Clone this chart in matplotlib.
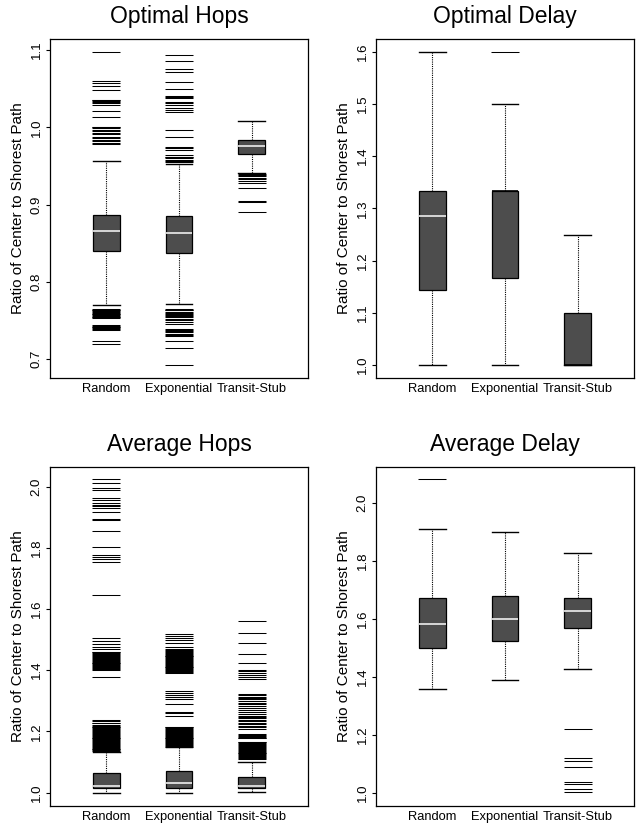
import matplotlib
matplotlib.use("Agg")
import matplotlib.pyplot as plt
from matplotlib.ticker import FormatStrFormatter

plt.rcParams['font.family'] = ['Liberation Sans', 'DejaVu Sans']

groups = ["Random", "Exponential", "Transit-Stub"]

# five-number stats per group: whisker low, q1, median, q3, whisker high
opt_hops_stats = [[0.770, 0.840, 0.866, 0.887, 0.957],
                  [0.771, 0.838, 0.863, 0.885, 0.952],
                  [0.941, 0.966, 0.976, 0.984, 1.008]]
opt_hops_fliers = [
    [1.098, 1.060, 1.057, 1.053, 1.048, 1.036, 1.035, 1.034, 1.033, 1.032,
     1.029, 1.021, 1.013, 1.001, 1.000, 0.999, 0.997, 0.995, 0.993, 0.991,
     0.988, 0.986, 0.984, 0.982, 0.980, 0.979,
     0.765, 0.764, 0.763, 0.762, 0.761, 0.760, 0.759, 0.758, 0.757, 0.756,
     0.755, 0.754, 0.753, 0.744, 0.743, 0.742, 0.741, 0.740, 0.739, 0.738,
     0.724, 0.720],
    [1.094, 1.086, 1.075, 1.072, 1.059, 1.049, 1.040, 1.039, 1.038, 1.033,
     1.031, 1.029, 1.025, 1.022, 1.020, 0.996, 0.987, 0.975, 0.973, 0.971,
     0.964, 0.962, 0.961, 0.960, 0.958, 0.956, 0.955,
     0.765, 0.764, 0.763, 0.761, 0.760, 0.758, 0.757, 0.756, 0.754, 0.752,
     0.750, 0.748, 0.746, 0.739, 0.738, 0.737, 0.735, 0.733, 0.731, 0.730,
     0.724, 0.714, 0.692],
    [0.940, 0.938, 0.937, 0.935, 0.933, 0.930, 0.928, 0.922, 0.905, 0.903,
     0.890],
]

opt_delay_stats = [[1.000, 1.143, 1.285, 1.333, 1.600],
                   [1.000, 1.167, 1.333, 1.333, 1.500],
                   [1.000, 1.000, 1.000, 1.100, 1.250]]
opt_delay_fliers = [[], [1.600], []]

avg_hops_stats = [[1.000, 1.014, 1.023, 1.063, 1.134],
                  [1.000, 1.016, 1.031, 1.071, 1.148],
                  [1.003, 1.016, 1.022, 1.052, 1.101]]
avg_hops_fliers = [
    [2.024, 2.013, 1.995, 1.989, 1.962, 1.957, 1.946, 1.940, 1.935, 1.931,
     1.918, 1.893, 1.891, 1.856, 1.802, 1.777, 1.770, 1.763, 1.752, 1.646,
     1.504, 1.497, 1.486, 1.477, 1.469, 1.461, 1.458, 1.455, 1.452, 1.449,
     1.446, 1.443, 1.440, 1.437, 1.434, 1.431, 1.428, 1.425, 1.422, 1.419,
     1.416, 1.413, 1.410, 1.407, 1.404, 1.401, 1.379,
     1.237, 1.233, 1.229, 1.226, 1.222, 1.219, 1.216, 1.213, 1.210, 1.207,
     1.204, 1.201, 1.198, 1.195, 1.192, 1.189, 1.186, 1.183, 1.180, 1.177,
     1.174, 1.171, 1.168, 1.165, 1.162, 1.159, 1.156, 1.153, 1.150, 1.147,
     1.144, 1.141, 1.138, 1.135],
    [1.519, 1.512, 1.504, 1.499, 1.488, 1.477, 1.469, 1.466, 1.463, 1.460,
     1.457, 1.454, 1.451, 1.448, 1.445, 1.442, 1.439, 1.436, 1.433, 1.430,
     1.427, 1.424, 1.421, 1.418, 1.415, 1.412, 1.409, 1.406, 1.403, 1.400,
     1.397, 1.394, 1.391,
     1.332, 1.327, 1.319, 1.314, 1.306, 1.289, 1.265, 1.259, 1.251,
     1.216, 1.213, 1.210, 1.207, 1.204, 1.201, 1.198, 1.195, 1.192, 1.189,
     1.186, 1.183, 1.180, 1.177, 1.174, 1.171, 1.168, 1.165, 1.162, 1.159,
     1.156, 1.153, 1.150],
    [1.562, 1.523, 1.490, 1.452, 1.425, 1.401, 1.396, 1.390, 1.385, 1.379,
     1.371, 1.322, 1.318, 1.311, 1.308, 1.305, 1.300, 1.293, 1.288, 1.282,
     1.276, 1.270, 1.265, 1.258, 1.252, 1.247, 1.243, 1.238, 1.233, 1.228,
     1.224, 1.219, 1.214, 1.208, 1.192, 1.189, 1.186, 1.183, 1.180, 1.177,
     1.167, 1.164, 1.161, 1.158, 1.155, 1.152, 1.149, 1.146, 1.143, 1.140,
     1.137, 1.134, 1.131, 1.128, 1.125, 1.122, 1.119, 1.116, 1.113, 1.110],
]

avg_delay_stats = [[1.359, 1.499, 1.583, 1.671, 1.908],
                   [1.390, 1.524, 1.600, 1.679, 1.900],
                   [1.428, 1.568, 1.627, 1.673, 1.826]]
avg_delay_fliers = [[2.080], [],
                    [1.220, 1.120, 1.110, 1.091, 1.040, 1.030, 1.016, 1.003]]

panels = [
    ("Optimal Hops", opt_hops_stats, opt_hops_fliers, (0.676, 1.114), [0.7, 0.8, 0.9, 1.0, 1.1]),
    ("Optimal Delay", opt_delay_stats, opt_delay_fliers, (0.976, 1.624), [1.0, 1.1, 1.2, 1.3, 1.4, 1.5, 1.6]),
    ("Average Hops", avg_hops_stats, avg_hops_fliers, (0.9565, 2.065), [1.0, 1.2, 1.4, 1.6, 1.8, 2.0]),
    ("Average Delay", avg_delay_stats, avg_delay_fliers, (0.956, 2.124), [1.0, 1.2, 1.4, 1.6, 1.8, 2.0]),
]

fig = plt.figure(figsize=(6.37, 8.23), dpi=100)
rects = [[0.0785, 0.5411, 0.405, 0.4112],
         [0.5903, 0.5411, 0.405, 0.4112],
         [0.0785, 0.0207, 0.405, 0.4123],
         [0.5903, 0.0207, 0.405, 0.4123]]

for rect, (title, stats, fliers, ylim, yticks) in zip(rects, panels):
    ax = fig.add_axes(rect)
    bstats = []
    for name, s, f in zip(groups, stats, fliers):
        bstats.append(dict(label=name, whislo=s[0], q1=s[1], med=s[2],
                           q3=s[3], whishi=s[4], fliers=f))
    res = ax.bxp(bstats, positions=[1, 2, 3], widths=0.37, capwidths=0.37,
                 patch_artist=True, showfliers=True,
                 boxprops=dict(facecolor='#4D4D4D', edgecolor='black', linewidth=0.9),
                 whiskerprops=dict(color='black', linestyle=(0, (1, 1)), linewidth=0.8),
                 capprops=dict(color='black', linewidth=1.0),
                 medianprops=dict(color='#EEEEEE', linewidth=1.2),
                 flierprops=dict(marker='_', markersize=19.5, markeredgecolor='black',
                                 markeredgewidth=0.75, linestyle='none'))
    # median hidden under box edge when it equals a quartile
    for line, s in zip(res['medians'], bstats):
        if s['med'] in (s['q1'], s['q3']):
            line.set_color('black')

    ax.set_xlim(0.23, 3.77)
    ax.set_ylim(*ylim)
    ax.set_yticks(yticks)
    ax.yaxis.set_major_formatter(FormatStrFormatter('%.1f'))
    ax.set_xticks([1, 2, 3])
    ax.set_xticklabels(groups, fontsize=9.3)
    ax.tick_params(axis='x', length=0, pad=3.5)
    ax.tick_params(axis='y', length=3, width=0.8, pad=2.3, labelsize=9.5)
    for lab in ax.get_yticklabels():
        lab.set_rotation(90)
        lab.set_va('center')
    for sp in ax.spines.values():
        sp.set_linewidth(0.9)
    ax.set_ylabel("Ratio of Center to Shorest Path", fontsize=11, labelpad=4)
    ax.set_title(title, fontsize=16.5, pad=11.5)

fig.savefig("out.png", dpi=100)
